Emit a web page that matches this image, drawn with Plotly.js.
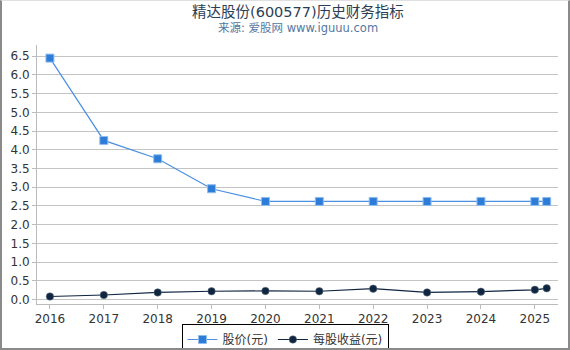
<!DOCTYPE html>
<html><head><meta charset="utf-8">
<script src="https://cdn.plot.ly/plotly-3.0.1.min.js"></script>
<style>
html,body{margin:0;padding:0;background:#fff;}
#wrap{width:570px;height:350px;box-sizing:border-box;border:2px solid #8a8a8a;border-top:1px solid #e0e0e0;overflow:hidden;}
#chart{width:566px;height:354px;}
</style></head>
<body><div id="wrap"><div id="chart"></div></div>
<script>
const years = [2016, 2017, 2018, 2019, 2020, 2021, 2022, 2023, 2024, 2025, 2025.22];
const price = [6.45, 4.25, 3.76, 2.96, 2.62, 2.62, 2.62, 2.62, 2.62, 2.62, 2.62];
const eps = [0.08, 0.12, 0.19, 0.22, 0.23, 0.22, 0.29, 0.19, 0.21, 0.26, 0.30];
const xTicks = [2016, 2017, 2018, 2019, 2020, 2021, 2022, 2023, 2024, 2025];
const yTicks = [0, 0.5, 1, 1.5, 2, 2.5, 3, 3.5, 4, 4.5, 5, 5.5, 6, 6.5];
const names = ['股价(元)', '每股收益(元)'];
const titleText = '精达股份(600577)历史财务指标';
const subText = '来源: 爱股网 www.iguuu.com';
const font = 'DejaVu Sans, "Noto Sans CJK SC", sans-serif';

const traces = [
  {x: years, y: price, name: names[0], type: 'scatter', mode: 'lines+markers',
   line: {color: '#4a8fe0', width: 1.2},
   marker: {symbol: 'square', size: 8, color: '#2d7dd8', line: {color: '#8fbdf0', width: 1}}},
  {x: years, y: eps, name: names[1], type: 'scatter', mode: 'lines+markers',
   line: {color: '#0f2540', width: 1.2},
   marker: {symbol: 'circle', size: 7.5, color: '#0f2540', line: {color: '#6a7a8a', width: 0.5}}}
];

const layout = {
  width: 566, height: 354,
  margin: {l: 35, r: 10, t: 44, b: 51},
  paper_bgcolor: '#fff', plot_bgcolor: '#fff',
  font: {family: font, size: 12, color: '#333'},
  annotations: [
    {text: titleText, xref: 'paper', yref: 'paper', x: 0.5, y: 1, xanchor: 'center', yanchor: 'middle',
     yshift: 33, showarrow: false, font: {family: font, size: 14.5, color: '#2b3e55'}},
    {text: subText, xref: 'paper', yref: 'paper', x: 0.5, y: 1, xanchor: 'center', yanchor: 'middle',
     yshift: 17, showarrow: false, font: {family: font, size: 11.5, color: '#5577a0'}}
  ],
  xaxis: {range: [2015.76, 2025.43], tickvals: xTicks, ticktext: xTicks.map(String),
          showgrid: false, zeroline: false, showline: true, linecolor: '#bbb', linewidth: 1,
          ticks: 'outside', ticklen: 4, tickcolor: '#bbb', tickfont: {size: 12, color: '#333'}},
  yaxis: {range: [-0.12, 6.8], tickvals: yTicks, ticktext: yTicks.map(v => v.toFixed(1)),
          showgrid: true, gridcolor: '#c4c4c4', gridwidth: 1, zeroline: false,
          showline: true, linecolor: '#bbb', linewidth: 1,
          ticks: 'outside', ticklen: 4, tickcolor: '#bbb', tickfont: {size: 12, color: '#333'}},
  legend: {orientation: 'h', x: 0.5, xref: 'container', xanchor: 'center',
           y: 0, yref: 'container', yanchor: 'bottom',
           bordercolor: '#000', borderwidth: 1, bgcolor: '#fff',
           font: {family: font, size: 12, color: '#333'}, itemwidth: 30},
  showlegend: true
};
Plotly.newPlot('chart', traces, layout, {displayModeBar: false, staticPlot: true});
</script></body></html>
